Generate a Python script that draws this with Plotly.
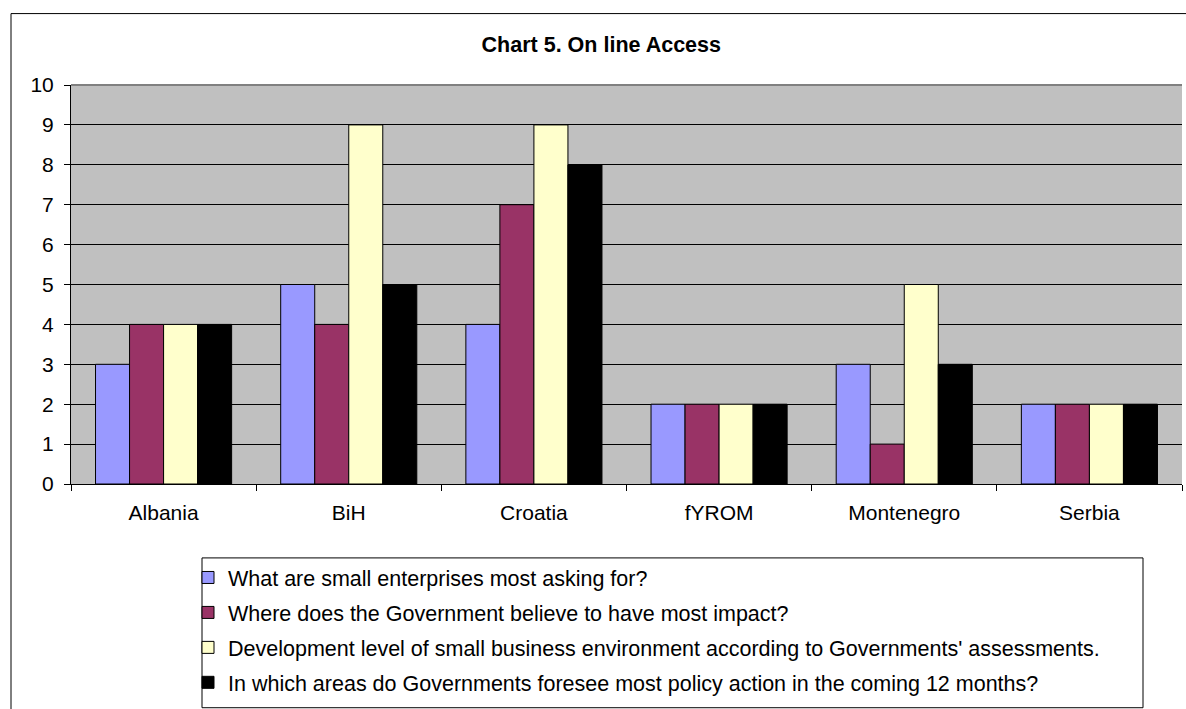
import plotly.graph_objects as go

# Categories and series
countries = ["Albania", "BiH", "Croatia", "fYROM", "Montenegro", "Serbia"]
series_names = [
    "What are small enterprises most asking for?",
    "Where does the Government believe to have most impact?",
    "Development level of small business environment according to Governments' assessments.",
    "In which areas do Governments foresee most policy action in the coming 12 months?",
]
asking_for = [3, 5, 4, 2, 3, 2]
most_impact = [4, 4, 7, 2, 1, 2]
development_level = [4, 9, 9, 2, 5, 2]
policy_action = [4, 5, 8, 2, 3, 2]
y_ticks = list(range(0, 11))

series_values = [asking_for, most_impact, development_level, policy_action]
colors = ["#9999FF", "#993366", "#FFFFCC", "#000000"]

W, H = 1186, 709
L, R, T, B = 71, 1182, 84.5, 484  # plot area edges in px
FONT = "Liberation Sans, Arial, Helvetica, sans-serif"

fig = go.Figure()
for i, (name, vals, col) in enumerate(zip(series_names, series_values, colors)):
    fig.add_trace(go.Bar(
        x=countries, y=vals, name=name,
        marker=dict(color=col, line=dict(color="#000000", width=1)),
        legendgroup=f"g{i}",
    ))

pw, ph = R - L, B - T

# legend frame drawn separately so it can be wider than the entries
LEG_X0, LEG_X1, LEG_Y0, LEG_Y1 = 202, 1143, 558, 708

fig.update_layout(
    width=W, height=H,
    margin=dict(l=L, r=W - R, t=T, b=H - B, pad=0, autoexpand=False),
    paper_bgcolor="#FFFFFF",
    plot_bgcolor="#C0C0C0",
    barmode="group",
    bargap=0.265,
    bargroupgap=0,
    font=dict(family=FONT, size=21, color="#000000"),
    title=dict(
        text="<b>Chart 5. On line Access</b>",
        x=0.507, xref="container", xanchor="center",
        y=1 - 44 / H, yref="container", yanchor="middle",
        font=dict(family=FONT, size=21.5, color="#000000"),
    ),
    showlegend=True,
    legend=dict(
        x=188 / W, xref="container", xanchor="left",
        y=1 - 557 / H, yref="container", yanchor="top",
        borderwidth=0,
        bgcolor="rgba(0,0,0,0)",
        traceorder="grouped",
        tracegroupgap=4,
        font=dict(family=FONT, size=21.5, color="#000000"),
        itemwidth=30,
    ),
    xaxis=dict(
        showgrid=False,
        showline=True, linecolor="#000000", linewidth=1,
        ticks="outside", ticklen=6, tickcolor="#000000",
        tickson="boundaries",
        ticklabelstandoff=10,
        tickfont=dict(family=FONT, size=21),
        fixedrange=True,
    ),
    yaxis=dict(
        range=[0, 10],
        tickvals=y_ticks,
        showgrid=True, gridcolor="#000000", gridwidth=1,
        showline=True, linecolor="#000000", linewidth=1,
        ticks="outside", ticklen=6, tickcolor="#000000",
        ticklabelstandoff=6,
        tickfont=dict(family=FONT, size=21),
        zeroline=False,
        fixedrange=True,
    ),
    shapes=[
        # grey top edge of the plot area
        dict(type="line", xref="paper", yref="paper", x0=0, x1=1, y0=1, y1=1,
             line=dict(color="#808080", width=2)),
        # outer chart frame (runs off the right and bottom edges)
        dict(type="rect", xref="paper", yref="paper",
             x0=(11 - L) / pw, x1=(W + 20 - L) / pw,
             y0=(B - (H + 20)) / ph, y1=(B - 13) / ph,
             line=dict(color="#000000", width=1), layer="below"),
        # legend frame
        dict(type="rect", xref="paper", yref="paper",
             x0=(LEG_X0 - L) / pw, x1=(LEG_X1 - L) / pw,
             y0=(B - LEG_Y1) / ph, y1=(B - LEG_Y0) / ph,
             line=dict(color="#000000", width=1), fillcolor="#FFFFFF",
             layer="below"),
    ],
)

fig.write_html("out.html")
